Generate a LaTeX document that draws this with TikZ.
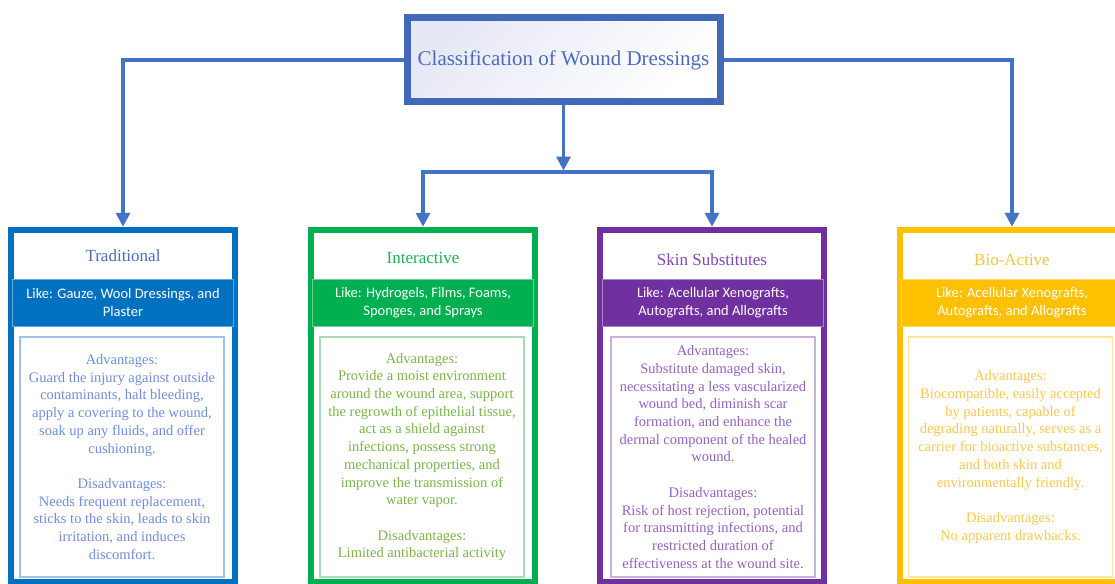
\documentclass[tikz,border=0pt]{standalone}
\usepackage{fontspec}
\setmainfont{Liberation Serif}
\newfontfamily\bandfont{Carlito}
\usetikzlibrary{arrows.meta}
\definecolor{conncol}{HTML}{4472C4}
\definecolor{topborder}{HTML}{4169B8}
\definecolor{toptext}{HTML}{4A6CC0}
\definecolor{lav}{HTML}{E6E8F5}
\definecolor{cA}{HTML}{0070C0}
\definecolor{cAt}{HTML}{4A6CC0}
\definecolor{cAb}{HTML}{6F8EDF}
\definecolor{cAi}{HTML}{9DC3E6}
\definecolor{cB}{HTML}{00B050}
\definecolor{cBt}{HTML}{1DB252}
\definecolor{cBb}{HTML}{7AB648}
\definecolor{cBi}{HTML}{A9DBB8}
\definecolor{cC}{HTML}{7030A0}
\definecolor{cCt}{HTML}{8248B4}
\definecolor{cCb}{HTML}{9462C4}
\definecolor{cCi}{HTML}{C9B0DF}
\definecolor{cD}{HTML}{FFC000}
\definecolor{cDt}{HTML}{F7C440}
\definecolor{cDb}{HTML}{F9C84E}
\definecolor{cDi}{HTML}{FFE49A}
\begin{document}
\begin{tikzpicture}[x=1pt,y=-1pt,
  conn/.style={draw=conncol, line width=3.5pt, -{Triangle[width=14pt,length=14pt]}},
  topbox/.style={draw=topborder, line width=7pt, minimum width=313pt, minimum height=84pt,
    top color=lav, bottom color=white, shading angle=45, text=toptext,
    font=\fontsize{21}{24}\selectfont, inner sep=0pt},
  outerbox/.style={draw=#1, line width=6.5pt, fill=white, minimum width=224pt, minimum height=352pt, inner sep=0pt},
  titletext/.style={text=#1, font=\fontsize{17}{20}\selectfont, inner sep=0pt},
  band/.style={fill=#1, draw=#1!60!white, line width=0.8pt, minimum width=221pt, minimum height=47pt,
    text=white, align=center, font=\bandfont\fontsize{14.5}{17.5}\selectfont, inner sep=0pt},
  innerbox/.style={draw=#1, line width=1.5pt, minimum width=204pt, minimum height=240pt, inner sep=0pt},
  bodytext/.style={text=#1, align=center, font=\fontsize{14.5}{17.7}\selectfont, inner sep=0pt}
]
\clip (0,0) rectangle (1115,583);
\fill[white] (0,0) rectangle (1115,583);

% top box
\node[topbox] (top) at (563.5,60) {Classification of Wound Dressings};

% columns
\node[outerbox=cA] (c1) at (123,406) {};
\node[outerbox=cB] (c2) at (423,406) {};
\node[outerbox=cC] (c3) at (712,406) {};
\node[outerbox=cD] (c4) at (1012,406) {};

% titles
\node[titletext=cAt] (t1) at (123,256) {Traditional};
\node[titletext=cBt] (t2) at (423,258) {Interactive};
\node[titletext=cCt] (t3) at (712,260) {Skin Substitutes};
\node[titletext=cDt] (t4) at (1012,260) {Bio-Active};

% bands
\node[band=cA] (b1) at (123,302.5) {Like: Gauze, Wool Dressings, and\\Plaster};
\node[band=cB] (b2) at (423,302.5) {Like: Hydrogels, Films, Foams,\\Sponges, and Sprays};
\node[band=cC] (b3) at (713,302.5) {Like: Acellular Xenografts,\\Autografts, and Allografts};
\node[band=cD] (b4) at (1012,302.5) {Like: Acellular Xenografts,\\Autografts, and Allografts};

% inner boxes
\node[innerbox=cAi] (i1) at (122,457) {};
\node[innerbox=cBi] (i2) at (422,457) {};
\node[innerbox=cCi] (i3) at (713,457) {};
\node[innerbox=cDi] (i4) at (1010.5,457) {};

% body texts
\node[bodytext=cAb] (x1) at (i1.center) {Advantages:\\Guard the injury against outside\\contaminants, halt bleeding,\\apply a covering to the wound,\\soak up any fluids, and offer\\cushioning.\\[17.7pt]Disadvantages:\\Needs frequent replacement,\\sticks to the skin, leads to skin\\irritation, and induces\\discomfort.};
\node[bodytext=cBb] (x2) at (i2.center) {Advantages:\\Provide a moist environment\\around the wound area, support\\the regrowth of epithelial tissue,\\act as a shield against\\infections, possess strong\\mechanical properties, and\\improve the transmission of\\water vapor.\\[17.7pt]Disadvantages:\\Limited antibacterial activity};
\node[bodytext=cCb] (x3) at (i3.center) {Advantages:\\Substitute damaged skin,\\necessitating a less vascularized\\wound bed, diminish scar\\formation, and enhance the\\dermal component of the healed\\wound.\\[17.7pt]Disadvantages:\\Risk of host rejection, potential\\for transmitting infections, and\\restricted duration of\\effectiveness at the wound site.};
\node[bodytext=cDb] (x4) at (i4.center) {Advantages:\\Biocompatible, easily accepted\\by patients, capable of\\degrading naturally, serves as a\\carrier for bioactive substances,\\and both skin and\\environmentally friendly.\\[17.7pt]Disadvantages:\\No apparent drawbacks.};

% connectors
\coordinate (hub) at (563.5,172);
\draw[conn] (top.west) -| (c1.north);
\draw[conn] (top.east) -| (c4.north);
\draw[conn, shorten >=1.5pt] (top.south) -- (hub);
\draw[conn] (hub) -| (c2.north);
\draw[conn] (hub) -| (c3.north);
\end{tikzpicture}
\end{document}
